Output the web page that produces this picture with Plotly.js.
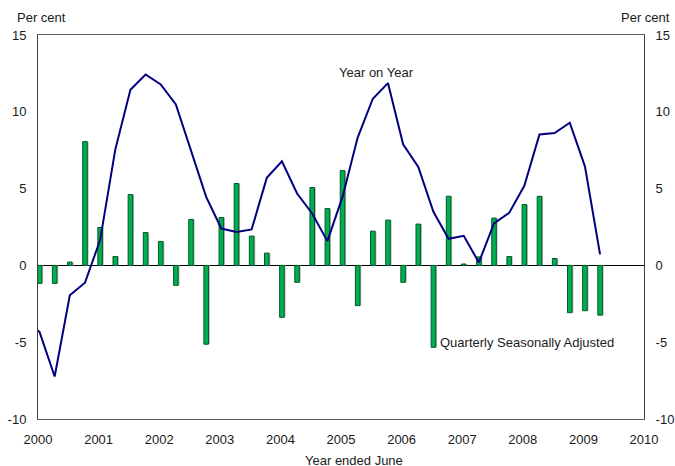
<!DOCTYPE html>
<html>
<head>
<meta charset="utf-8">
<script src="https://cdn.plot.ly/plotly-3.0.1.min.js"></script>
<style>html,body{margin:0;padding:0;background:#fff;}#chart{width:675px;height:466px;}</style>
</head>
<body>
<div id="chart"></div>
<script>
// Quarters (first one is only used by the year-on-year line, which enters from off-axis)
const quarters = ["1999Q4",
 "2000Q1","2000Q2","2000Q3","2000Q4","2001Q1","2001Q2","2001Q3","2001Q4",
 "2002Q1","2002Q2","2002Q3","2002Q4","2003Q1","2003Q2","2003Q3","2003Q4",
 "2004Q1","2004Q2","2004Q3","2004Q4","2005Q1","2005Q2","2005Q3","2005Q4",
 "2006Q1","2006Q2","2006Q3","2006Q4","2007Q1","2007Q2","2007Q3","2007Q4",
 "2008Q1","2008Q2","2008Q3","2008Q4","2009Q1","2009Q2"];

// Quarterly seasonally adjusted (%)
const quarterlySA = [null,
 -1.17,-1.17,0.22,8.06,2.47,0.58,4.61,2.14,
 1.56,-1.30,2.99,-5.13,3.12,5.33,1.91,0.80,
 -3.38,-1.10,5.07,3.70,6.17,-2.62,2.23,2.95,
 -1.10,2.69,-5.33,4.50,0.09,0.55,3.08,0.58,
 3.96,4.50,0.45,-3.08,-2.95,-3.24];

// Year on year (%)
const yearOnYear = [-3.6,
 -4.33,-7.23,-1.95,-1.13,1.65,7.54,11.44,12.43,
 11.78,10.48,7.49,4.46,2.40,2.17,2.34,5.70,
 6.78,4.68,3.38,1.58,4.46,8.32,10.85,11.87,
 7.88,6.41,3.49,1.73,1.93,0.19,2.73,3.42,
 5.18,8.53,8.62,9.29,6.45,0.72];

const yearTicks = [2000,2001,2002,2003,2004,2005,2006,2007,2008,2009,2010];
const yTicks = [15,10,5,0,-5,-10];

function qpos(q){
  const y = parseInt(q.slice(0,4),10), n = parseInt(q.slice(5),10);
  return y + (n-1)*0.25 + 0.025;
}
const xs = quarters.map(qpos);
const fnt = {family:"Liberation Sans, Arial, sans-serif", size:13, color:"#1a1a1a"};

const traces = [
  {type:"bar", x:xs.map(v=>v+0.022), y:quarterlySA, width:0.075,
   marker:{color:"#b4b4b4", line:{width:0}}, hoverinfo:"skip", showlegend:false},
  {type:"bar", x:xs, y:quarterlySA, width:0.075, name:"Quarterly Seasonally Adjusted",
   marker:{color:"#00b050", line:{color:"#00582a", width:1}}, showlegend:false},
  {type:"scatter", mode:"lines", x:xs, y:yearOnYear, name:"Year on Year",
   line:{color:"#000080", width:2}, showlegend:false},
  {type:"scatter", mode:"lines", x:[2000,2010], y:[null,null], yaxis:"y2", showlegend:false, hoverinfo:"skip"}
];

const layout = {
  width:675, height:466,
  margin:{l:37.5, r:31, t:34.5, b:47},
  paper_bgcolor:"#fff", plot_bgcolor:"#fff",
  font:fnt, barmode:"overlay", showlegend:false,
  xaxis:{range:[2000,2010], tickvals:yearTicks, ticktext:yearTicks.map(String),
    showgrid:false, zeroline:false, showline:true, linecolor:"#606060", linewidth:1, mirror:true,
    ticks:"outside", ticklen:8, tickcolor:"rgba(0,0,0,0)", tickfont:fnt},
  yaxis:{range:[-10,15], tickvals:yTicks, ticktext:yTicks.map(String),
    showgrid:false, zeroline:true, zerolinecolor:"#000", zerolinewidth:1.3,
    showline:true, linecolor:"#404040", linewidth:1, mirror:true,
    ticks:"outside", ticklen:8, tickcolor:"rgba(0,0,0,0)", tickfont:fnt},
  yaxis2:{range:[-10,15], tickvals:yTicks, ticktext:yTicks.map(String), overlaying:"y", side:"right",
    showgrid:false, zeroline:false, showline:false,
    ticks:"outside", ticklen:8, tickcolor:"rgba(0,0,0,0)", tickfont:fnt},
  annotations:[
    {text:"Per cent", xref:"paper", yref:"paper", x:-0.038, y:1.022, xanchor:"left", yanchor:"bottom", showarrow:false, font:fnt},
    {text:"Per cent", xref:"paper", yref:"paper", x:1.046, y:1.022, xanchor:"right", yanchor:"bottom", showarrow:false, font:fnt},
    {text:"Year on Year", xref:"x", yref:"y", x:2005.58, y:12.55, xanchor:"center", yanchor:"middle", showarrow:false, font:fnt},
    {text:"Quarterly Seasonally Adjusted", xref:"x", yref:"y", x:2006.6, y:-5.05, xanchor:"left", yanchor:"middle", showarrow:false, font:fnt},
    {text:"Year ended June", xref:"paper", yref:"paper", x:0.5215, y:-0.083, xanchor:"center", yanchor:"top", showarrow:false, font:fnt}
  ]
};

Plotly.newPlot("chart", traces, layout, {displayModeBar:false, staticPlot:true});
</script>
</body>
</html>
